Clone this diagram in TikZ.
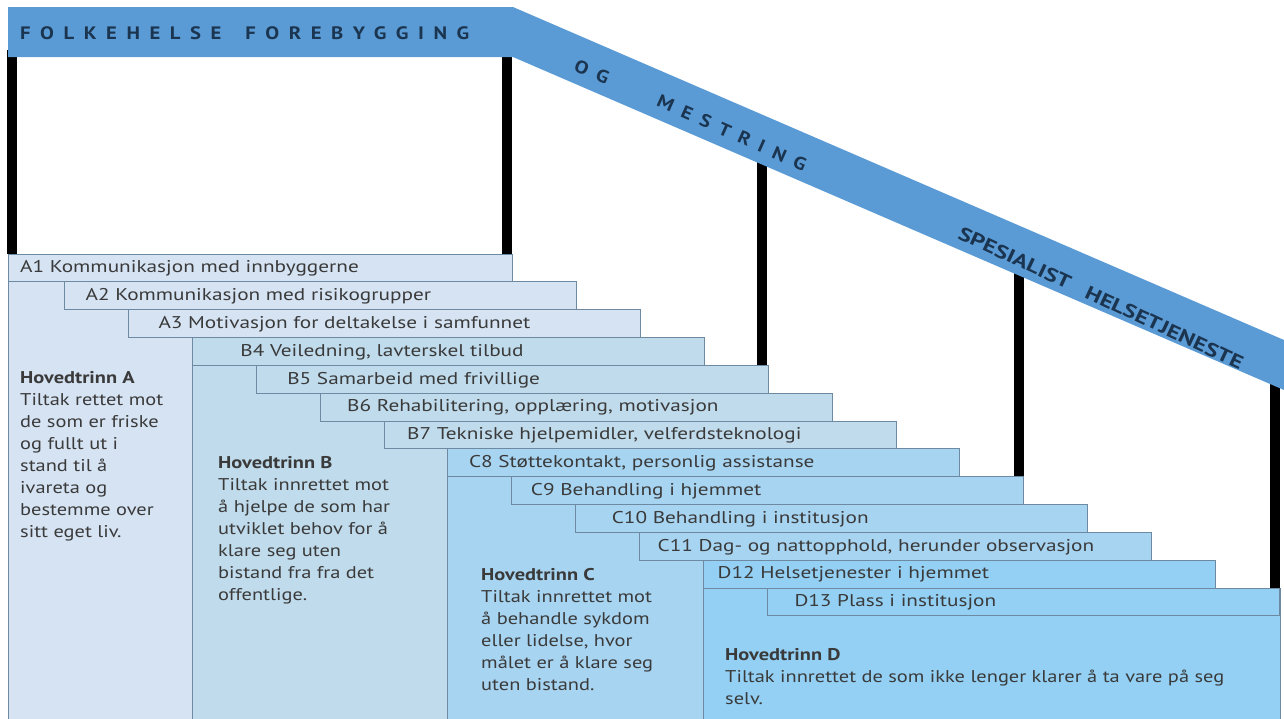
\documentclass[tikz,border=0pt]{standalone}
\usepackage{fontspec}
\setmainfont{PT Sans}
\newfontfamily\stepfont[FakeStretch=1.25]{PT Sans}
\newfontfamily\bodyfont[FakeStretch=1.2]{PT Sans}
\newfontfamily\bandfont[LetterSpace=53,FakeStretch=1.15]{PT Sans}
\newfontfamily\spesfont[FakeStretch=1.3]{PT Sans}
\usepackage{tikz}
\definecolor{band}{HTML}{5B9BD5}
\definecolor{bandtxt}{HTML}{1B3550}
\definecolor{trinnA}{HTML}{D5E3F3}
\definecolor{trinnB}{HTML}{C0DBEC}
\definecolor{trinnC}{HTML}{A7D4F1}
\definecolor{trinnD}{HTML}{93D0F4}
\definecolor{edge}{HTML}{6E8AA3}
\definecolor{ink}{HTML}{3A3A3A}
\tikzset{
  box/.style={draw=edge, line width=0.8pt},
  bar/.style={draw=black, line width=10pt},
  steptxt/.style={text=ink, font=\stepfont\fontsize{17}{20}\selectfont, anchor=west, inner sep=0pt},
  trinntxt/.style={text=ink, font=\bodyfont\fontsize{17}{22}\selectfont, align=left, anchor=north west, inner sep=0pt},
  bandlab/.style={text=bandtxt, font=\bandfont\bfseries\fontsize{18}{20}\selectfont, inner sep=0pt},
  speslab/.style={text=bandtxt, font=\spesfont\bfseries\fontsize{19}{20}\selectfont, inner sep=0pt},
}

\begin{document}
\begin{tikzpicture}[x=1pt,y=-1pt]
  \useasboundingbox (0,0) rectangle (1284,718);
  \foreach \bx/\ytop/\ybot in {11.5/50/254, 507/50/254, 762/160/365.3, 1019/270/476.6, 1275/380/588}
    \draw[bar] (\bx,\ytop) -- (\bx,\ybot);
  \fill[band] (8,7) -- (513,7) -- (1284,340) -- (1284,390) -- (513,57) -- (8,57) -- cycle;
  \node[bandlab, anchor=west] (folk) at (20,33) {FOLKEHELSE\hspace{24pt}FOREBYGGING};
  \node[bandlab, rotate=-24] (og) at (592,72) {OG};
  \node[bandlab, rotate=-24] (mest) at (732,133) {MESTRING};
  \node[speslab, rotate=-25] (spes) at (1101,298) {SPESIALIST\hspace{18pt}HELSETJENESTE};
  \foreach \c/\xa/\ya/\xb in {trinnA/8/254/192.2, trinnB/192.2/365.3/447.8, trinnC/447.8/476.6/703.4, trinnD/703.4/588/1280}
    \draw[box, fill=\c] (\xa,\ya) rectangle (\xb,719);
  \foreach \i/\c/\p/\t in {1/trinnA/12/{A1 Kommunikasjon med innbyggerne},
      2/trinnA/21/{A2 Kommunikasjon med risikogrupper},
      3/trinnA/30/{A3 Motivasjon for deltakelse i samfunnet},
      4/trinnB/48/{B4 Veiledning, lavterskel tilbud},
      5/trinnB/31/{B5 Samarbeid med frivillige},
      6/trinnB/27/{B6 Rehabilitering, opplæring, motivasjon},
      7/trinnB/23/{B7 Tekniske hjelpemidler, velferdsteknologi},
      8/trinnC/21/{C8 Støttekontakt, personlig assistanse},
      9/trinnC/19/{C9 Behandling i hjemmet},
      10/trinnC/36/{C10 Behandling i institusjon},
      11/trinnC/18/{C11 Dag- og nattopphold, herunder observasjon},
      12/trinnD/14/{D12 Helsetjenester i hjemmet},
      13/trinnD/27/{D13 Plass i institusjon}} {
    \pgfmathsetmacro\rowtop{254+27.83*(\i-1)}
    \pgfmathsetmacro\rowrgt{512.5+63.9*(\i-1)}
    \pgfmathsetmacro\rowlft{max(8,\rowrgt-512)}
    \draw[box, fill=\c] (\rowlft,\rowtop) rectangle (\rowrgt,\rowtop+27.83);
    \node[steptxt] (s\i) at (\rowlft+\p,\rowtop+14.5) {\t};
  }
  \node[trinntxt] (hA) at (20,371.5) {\textbf{Hovedtrinn A}\\Tiltak rettet mot\\de som er friske\\og fullt ut i\\stand til å\\ivareta og\\bestemme over\\sitt eget liv.};
  \node[trinntxt] (hB) at (218,456.5) {\textbf{Hovedtrinn B}\\Tiltak innrettet mot\\å hjelpe de som har\\utviklet behov for å\\klare seg uten\\bistand fra fra det\\offentlige.};
  \node[trinntxt] (hC) at (481,568.5) {\textbf{Hovedtrinn C}\\Tiltak innrettet mot\\å behandle sykdom\\eller lidelse, hvor\\målet er å klare seg\\uten bistand.};
  \node[trinntxt] (hD) at (725,648.5) {\textbf{Hovedtrinn D}\\Tiltak innrettet de som ikke lenger klarer å ta vare på seg\\selv.};
\end{tikzpicture}
\end{document}
